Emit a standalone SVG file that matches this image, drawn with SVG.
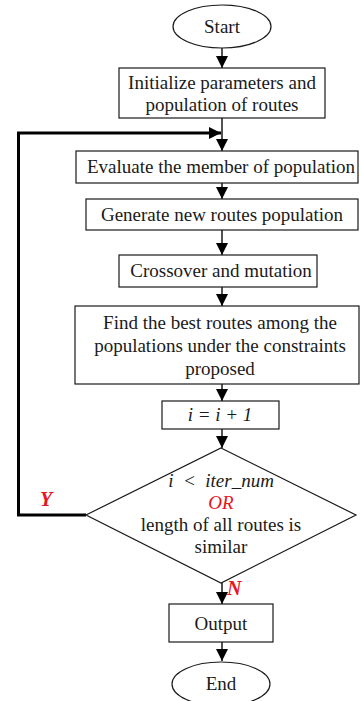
<svg xmlns="http://www.w3.org/2000/svg" width="361" height="701" viewBox="0 0 361 701">
  <style>
    .shape { fill: #ffffff; stroke: #1a1a1a; stroke-width: 1.2; }
    .label { font-family: "Liberation Serif", "Times New Roman", serif; font-size: 19px; fill: #1a1a1a; text-anchor: middle; }
    .math { font-style: italic; }
    .flag { font-family: "Liberation Serif", "Times New Roman", serif; font-size: 20px; font-style: italic; font-weight: bold; fill: #e8141e; }
    .flow { fill: none; stroke: #1a1a1a; stroke-width: 1.5; }
    .loop { fill: none; stroke: #000000; stroke-width: 3; }
  </style>
  <defs>
    <marker id="arrow" markerUnits="userSpaceOnUse" markerWidth="13" markerHeight="12" viewBox="0 0 13 12" refX="12" refY="6" orient="auto">
      <path d="M0,0 L12,6 L0,12 Z" fill="#000000"/>
    </marker>
  </defs>

  <!-- connectors -->
  <g id="connectors">
    <line class="flow" x1="222" y1="48" x2="222" y2="68" marker-end="url(#arrow)"/>
    <line class="flow" x1="222" y1="118" x2="222" y2="151" marker-end="url(#arrow)"/>
    <line class="flow" x1="222" y1="183" x2="222" y2="199" marker-end="url(#arrow)"/>
    <line class="flow" x1="222" y1="230" x2="222" y2="255" marker-end="url(#arrow)"/>
    <line class="flow" x1="222" y1="287" x2="222" y2="306" marker-end="url(#arrow)"/>
    <line class="flow" x1="222" y1="384" x2="222" y2="401" marker-end="url(#arrow)"/>
    <line class="flow" x1="222" y1="429" x2="222" y2="448" marker-end="url(#arrow)"/>
    <line class="flow" x1="222" y1="583" x2="222" y2="604" marker-end="url(#arrow)"/>
    <line class="flow" x1="222" y1="642" x2="222" y2="661" marker-end="url(#arrow)"/>
    <!-- Y branch loops back above the evaluation step -->
    <polyline class="loop" points="86,515 18.5,515 18.5,133 221,133" marker-end="url(#arrow)"/>
    <text class="flag" x="40" y="506">Y</text>
    <text class="flag" x="227" y="595">N</text>
  </g>

  <g id="start">
    <ellipse class="shape" cx="222" cy="26.5" rx="49" ry="21.5"/>
    <text class="label" x="222" y="33">Start</text>
  </g>

  <g id="init">
    <rect class="shape" x="119" y="68" width="206" height="50"/>
    <text class="label" x="222" y="89">Initialize parameters and</text>
    <text class="label" x="222" y="111">population of routes</text>
  </g>

  <g id="evaluate">
    <rect class="shape" x="76" y="151" width="282" height="32"/>
    <text class="label" x="221" y="173">Evaluate the member of population</text>
  </g>

  <g id="generate">
    <rect class="shape" x="86" y="199" width="272" height="31"/>
    <text class="label" x="222" y="221">Generate new routes population</text>
  </g>

  <g id="crossover">
    <rect class="shape" x="119" y="255" width="198" height="32"/>
    <text class="label" x="221" y="277">Crossover and mutation</text>
  </g>

  <g id="best">
    <rect class="shape" x="75" y="306" width="284" height="78"/>
    <text class="label" x="220" y="329">Find the best routes among the</text>
    <text class="label" x="220" y="352">populations under the constraints</text>
    <text class="label" x="220" y="375">proposed</text>
  </g>

  <g id="increment">
    <rect class="shape" x="162" y="401" width="117" height="28"/>
    <text class="label math" x="220" y="421">i = i + 1</text>
  </g>

  <g id="check">
    <polygon class="shape" points="221,448 356,515 221,583 86,515"/>
    <text class="label math" x="221" y="487" xml:space="preserve">i  &lt;  iter_num</text>
    <text class="label math" x="221" y="509" style="fill:#e8141e">OR</text>
    <text class="label" x="221" y="531">length of all routes is</text>
    <text class="label" x="221" y="553">similar</text>
  </g>

  <g id="output">
    <rect class="shape" x="169" y="604" width="104" height="38"/>
    <text class="label" x="221" y="630">Output</text>
  </g>

  <g id="end">
    <ellipse class="shape" cx="221" cy="684" rx="49" ry="22"/>
    <text class="label" x="221" y="690">End</text>
  </g>
</svg>
